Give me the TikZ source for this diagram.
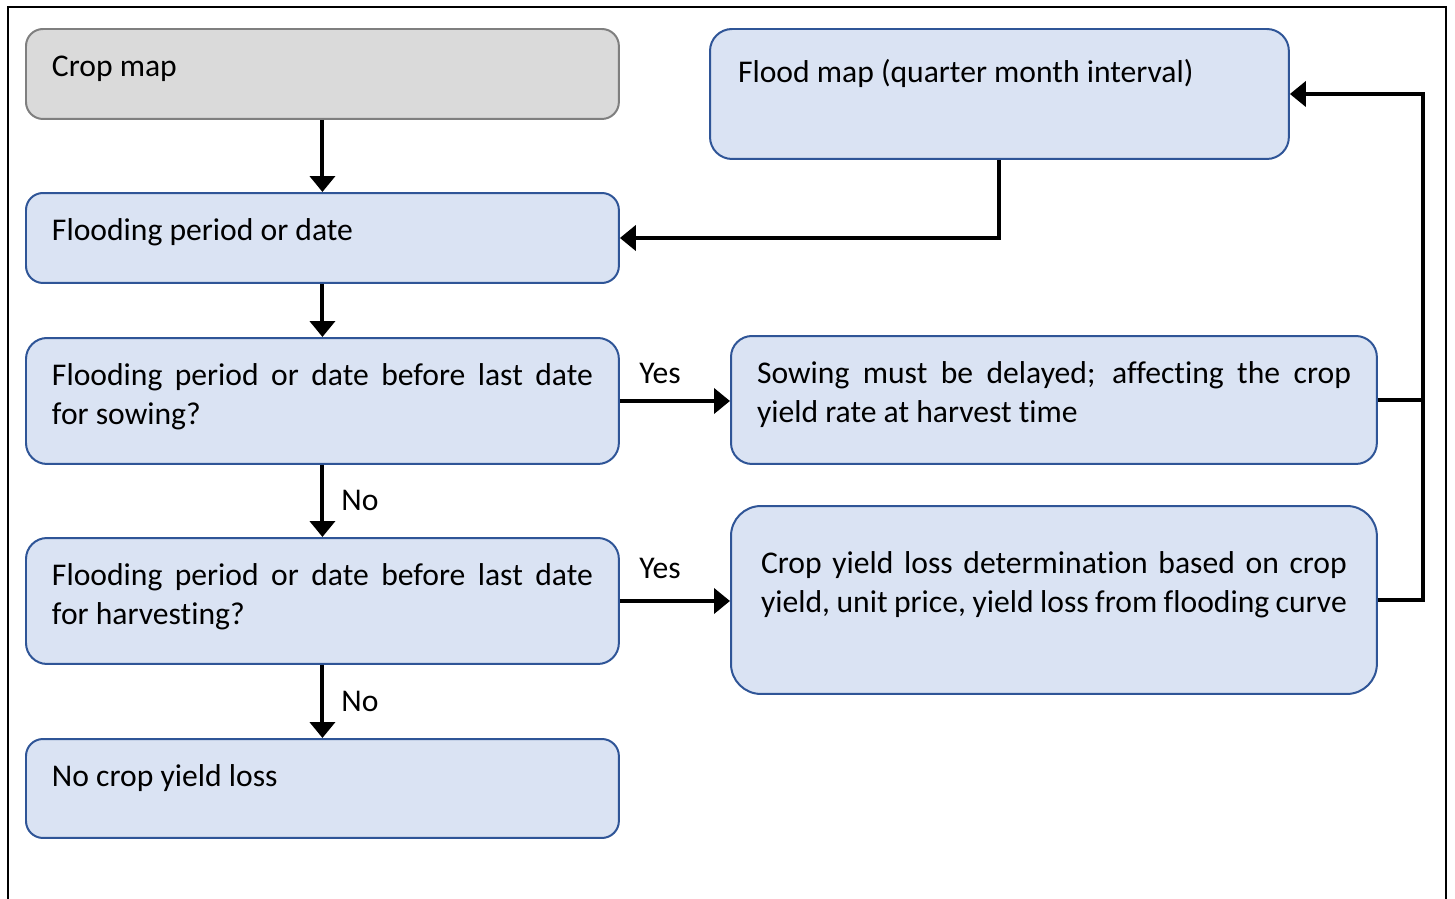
\documentclass[tikz,border=0pt]{standalone}
\usepackage{fontspec}
\setmainfont{Carlito}[Ligatures={NoCommon}]
\usepackage{xcolor}
\usetikzlibrary{arrows.meta,calc}

\definecolor{boxblue}{HTML}{2F5597}
\definecolor{boxfill}{HTML}{DAE3F3}
\definecolor{mapgray}{HTML}{DADADA}
\definecolor{mapedge}{HTML}{7F7F7F}

\newcommand{\boxtxt}[3]{\parbox[t][#2][t]{#1}{\strut #3}}

\begin{document}
\begin{tikzpicture}[x=0.02cm, y=-0.02cm, line join=miter,
    font=\fontsize{18}{22.2}\selectfont,
    box/.style={draw=boxblue, fill=boxfill, line width=0.04cm, rounded corners=0.34cm,
                anchor=north west, inner xsep=0.52cm, inner ysep=0.4cm},
    mapbox/.style={box, draw=mapedge, fill=mapgray},
    flow/.style={line width=0.08cm, -{Triangle[length=0.32cm, width=0.5cm]}},
    tag/.style={inner sep=0pt}]

  \useasboundingbox (0,0) rectangle (1455,899);

  % frame
  \draw[line width=0.04cm] (8,899) -- (8,7) -- (1446,7) -- (1446,899);

  % left column
  \node[mapbox] (crop) at (25,28) {\boxtxt{10.82cm}{1.0cm}{Crop map}};
  \node[box] (period) at (25,192) {\boxtxt{10.82cm}{1.0cm}{Flooding period or date}};
  \node[box, rounded corners=0.42cm] (sowq) at (25,337)
    {\boxtxt{10.82cm}{1.72cm}{Flooding period or date before last date\linebreak for sowing?}};
  \node[box, rounded corners=0.42cm] (harvq) at (25,537)
    {\boxtxt{10.82cm}{1.72cm}{Flooding period or date before last date\linebreak for harvesting?}};
  \node[box] (noloss) at (25,738) {\boxtxt{10.82cm}{1.18cm}{No crop yield loss}};

  % right column
  \node[box, rounded corners=0.44cm, inner xsep=0.56cm, inner ysep=0.52cm] (flood) at (709,28)
    {\boxtxt{10.46cm}{1.56cm}{Flood map (quarter month interval)}};
  \node[box, rounded corners=0.42cm] (delay) at (730,335)
    {\boxtxt{11.88cm}{1.76cm}{Sowing must be delayed; affecting the crop\linebreak yield rate at harvest time}};
  \node[box, rounded corners=0.6cm, inner xsep=0.6cm, inner ysep=0.8cm] (loss) at (730,505)
    {\boxtxt{11.72cm}{2.16cm}{Crop yield loss determination based on crop\linebreak yield, unit price, yield loss from flooding curve}};

  \coordinate (rail) at (1423,0);

  % connectors
  \draw[flow] (crop) -- (period);
  \draw[flow] (flood.south) |- (period.east);
  \draw[flow] (period) -- (sowq);
  \draw[flow] (sowq) -- (harvq);
  \draw[flow] (harvq) -- (noloss);
  \draw[flow] (sowq.east) -- (sowq.east -| delay.west);
  \draw[flow] (harvq.east) -- (harvq.east -| loss.west);
  \draw[line width=0.08cm] (delay.east) -- (delay.east -| rail);
  \draw[flow] (loss.east) -| (rail |- flood.east) -- (flood.east);

  % labels
  \node[tag] (yes1) at (660,373) {Yes};
  \node[tag] (yes2) at (660,568) {Yes};
  \node[tag] (no1) at (360,500) {No};
  \node[tag] (no2) at (360,701) {No};

\end{tikzpicture}
\end{document}
